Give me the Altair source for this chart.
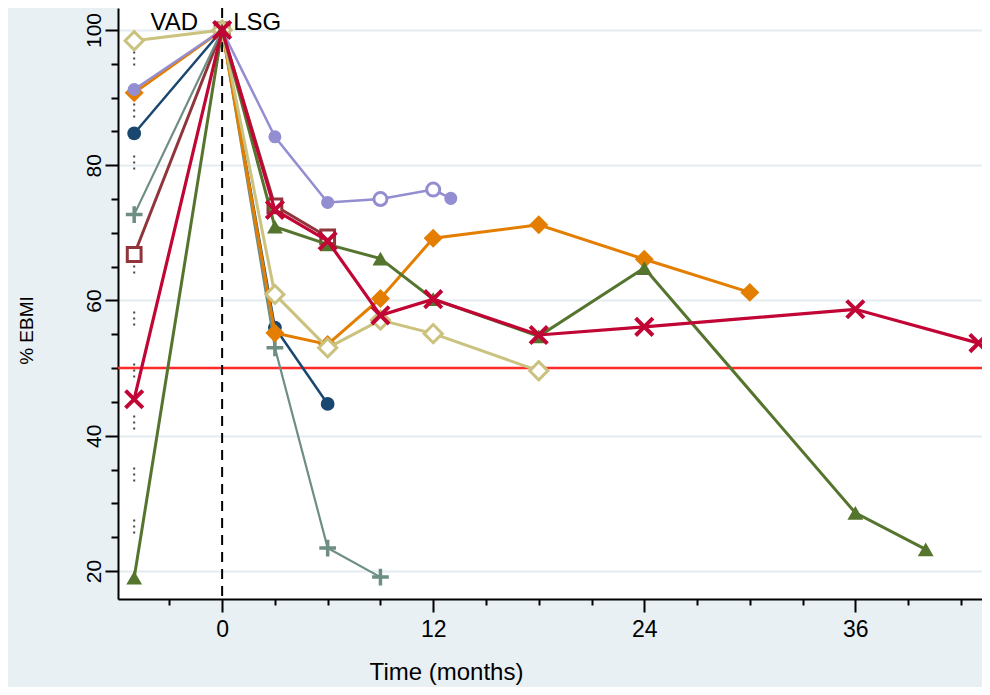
import altair as alt
import pandas as pd

# ---------------- data ----------------
navy_t = [-5, 0, 3, 6]
navy_v = [84.7, 100, 56.0, 44.7]
maroon_t = [-5, 0, 3, 6]
maroon_v = [66.8, 100, 74.0, 69.4]
teal_t = [-5, 0, 3, 6, 9]
teal_v = [72.7, 100, 53.0, 23.4, 19.1]
orange_t = [-5, 0, 3, 6, 9, 12, 18, 24, 30]
orange_v = [90.7, 100, 55.2, 53.5, 60.3, 69.2, 71.2, 66.1, 61.2]
lavender_t = [-5, 0, 3, 6, 9, 12, 13]
lavender_v = [91.2, 100, 84.2, 74.5, 75.0, 76.4, 75.1]
lavender_open = [False, False, False, False, True, True, False]
khaki_t = [-5, 0, 3, 6, 9, 12, 18]
khaki_v = [98.4, 100, 60.9, 53.0, 57.1, 55.1, 49.6]
green_t = [-5, 0, 3, 6, 9, 12, 18, 24, 36, 40]
green_v = [19.0, 100, 70.9, 68.3, 66.2, 60.2, 54.7, 64.8, 28.6, 23.2]
red_t = [-5, 0, 3, 6, 9, 12, 18, 24, 36, 43]
red_v = [45.4, 100, 73.4, 68.8, 57.8, 60.2, 54.9, 56.1, 58.7, 53.7]

x_ticks = list(range(-3, 43, 3))
y_ticks = list(range(20, 101, 5))
x_major = 12
y_major = 20
threshold = 50
surgery_month = 0
vad_month = -5
phase_labels = ["VAD", "LSG"]
vad_dots_range = [96.8, 19.5]

# ---------------- styling ----------------
FONT = "Liberation Sans, Arial"
PLUS = "M-1,0L1,0M0,-1L0,1"
XSH = "M-1,-1L1,1M-1,1L1,-1"

xscale = alt.Scale(domain=[-5.92, 43.2], nice=False, zero=False)
yscale = alt.Scale(domain=[15.86, 103.25], nice=False, zero=False)

xaxis = alt.Axis(
    values=x_ticks,
    labelExpr=f"datum.value % {x_major} === 0 ? datum.label : ''",
    tickSize={"condition": {"test": f"datum.value % {x_major} === 0", "value": 13}, "value": 6},
    tickColor="black", tickWidth=2, domainColor="black", domainWidth=2,
    grid=False, labelOverlap=False, labelFlush=False,
    labelFont=FONT, labelFontSize=23, labelColor="black", labelPadding=6,
    titleFont=FONT, titleFontSize=24, titleFontWeight="normal", titleColor="black",
    titleX=328, titleY=80, titleAlign="center", titleBaseline="alphabetic", titleAnchor="start",
)
yaxis = alt.Axis(
    values=y_ticks,
    labelExpr=f"datum.value % {y_major} === 0 ? datum.label : ''",
    tickSize={"condition": {"test": f"datum.value % {y_major} === 0", "value": 13}, "value": 7},
    gridOpacity={"condition": {"test": f"datum.value % {y_major} === 0", "value": 1}, "value": 0},
    grid=True, gridColor="#e3ecef", gridWidth=2,
    tickColor="black", tickWidth=2, domainColor="black", domainWidth=2,
    labelAngle=270, labelAlign="center", labelBaseline="alphabetic",
    labelOverlap=False, labelFont=FONT, labelFontSize=21, labelColor="black",
    labelPadding=5,
    titleFont=FONT, titleFontSize=19, titleFontWeight="normal", titleColor="black",
    titleX=-92, titleY=322, titleAngle=270, titleAlign="center", titleBaseline="middle",
    titleAnchor="start",
)

def XE():
    return alt.X("t:Q", scale=xscale, axis=xaxis, title="Time (months)")

def YE():
    return alt.Y("v:Q", scale=yscale, axis=yaxis, title="% EBMI")

series = [
    # t, v, color, shape, hollow, line width, size, marker stroke
    (navy_t, navy_v, "#1a476f", "circle", False, 2.5, 190, 1),
    (maroon_t, maroon_v, "#90353b", "square", True, 3.0, 190, 3),
    (teal_t, teal_v, "#6e8e84", PLUS, True, 2.2, 280, 3.5),
    (orange_t, orange_v, "#e37e00", "diamond", False, 3.0, 360, 1),
    (lavender_t, lavender_v, "#938dd2", "circle", False, 2.5, 170, 1),
    (khaki_t, khaki_v, "#cac27e", "diamond", True, 3.0, 330, 3),
    (green_t, green_v, "#55752f", "triangle-up", False, 3.0, 250, 1),
    (red_t, red_v, "#c10534", XSH, True, 3.2, 300, 4),
]

layers = []

# threshold line and surgery line
ref_df = pd.DataFrame({"t": [surgery_month], "v": [threshold]})
layers.append(
    alt.Chart(ref_df).mark_rule(color="#ff2a2a", strokeWidth=2.5).encode(y=YE())
)
layers.append(
    alt.Chart(ref_df).mark_rule(color="black", strokeWidth=2, strokeDash=[10, 7]).encode(x=XE())
)
# dotted marks at the VAD time
dots_df = pd.DataFrame({"t": [vad_month], "v": [vad_dots_range[0]], "v2": [vad_dots_range[1]]})
layers.append(
    alt.Chart(dots_df).mark_rule(color="#444444", strokeWidth=2, strokeDash=[2, 4, 2, 4, 2, 38]).encode(
        x=XE(), y=YE(), y2="v2:Q")
)

for t, v, col, shp, hollow, lw, sz, msw in series:
    df = pd.DataFrame({"t": t, "v": v})
    layers.append(alt.Chart(df).mark_line(color=col, strokeWidth=lw).encode(x=XE(), y=YE()))
    if col == "#938dd2":
        df = df.assign(open=lavender_open)
        filled_df = df[~df["open"]]
        open_df = df[df["open"]]
        layers.append(alt.Chart(filled_df).mark_point(shape=shp, filled=True, size=sz, color=col, opacity=1)
                      .encode(x=XE(), y=YE()))
        layers.append(alt.Chart(open_df).mark_point(shape=shp, filled=False, size=sz, color=col, fill="white",
                                                    fillOpacity=1, strokeWidth=3, opacity=1)
                      .encode(x=XE(), y=YE()))
        continue
    if shp in (PLUS, XSH):
        mk = alt.Chart(df).mark_point(shape=shp, filled=False, size=sz, color=col, strokeWidth=msw, opacity=1)
    elif hollow:
        mk = alt.Chart(df).mark_point(shape=shp, filled=False, size=sz, color=col, fill="white",
                                      fillOpacity=1, strokeWidth=msw, opacity=1)
    else:
        mk = alt.Chart(df).mark_point(shape=shp, filled=True, size=sz, color=col, opacity=1)
    layers.append(mk.encode(x=XE(), y=YE()))

# phase labels
lab_df = pd.DataFrame({"t": [surgery_month, surgery_month], "v": [100, 100], "lab": phase_labels})
layers.append(
    alt.Chart(lab_df[lab_df["lab"] == phase_labels[0]]).mark_text(
        align="right", baseline="alphabetic", dx=-24, font=FONT, fontSize=24, color="black"
    ).encode(x=XE(), y=YE(), text="lab:N")
)
layers.append(
    alt.Chart(lab_df[lab_df["lab"] == phase_labels[1]]).mark_text(
        align="left", baseline="alphabetic", dx=11, font=FONT, fontSize=24, color="black"
    ).encode(x=XE(), y=YE(), text="lab:N")
)

chart = alt.layer(*layers).properties(
    width=864, height=591,
    autosize=alt.AutoSizeParams(type="none"),
    padding={"left": 110, "top": 0, "right": 0, "bottom": 88},
    background="#e9f0f3",
).configure_view(fill="white", strokeWidth=0)

chart.save("out.html", embed_options={"renderer": "svg", "actions": False})
